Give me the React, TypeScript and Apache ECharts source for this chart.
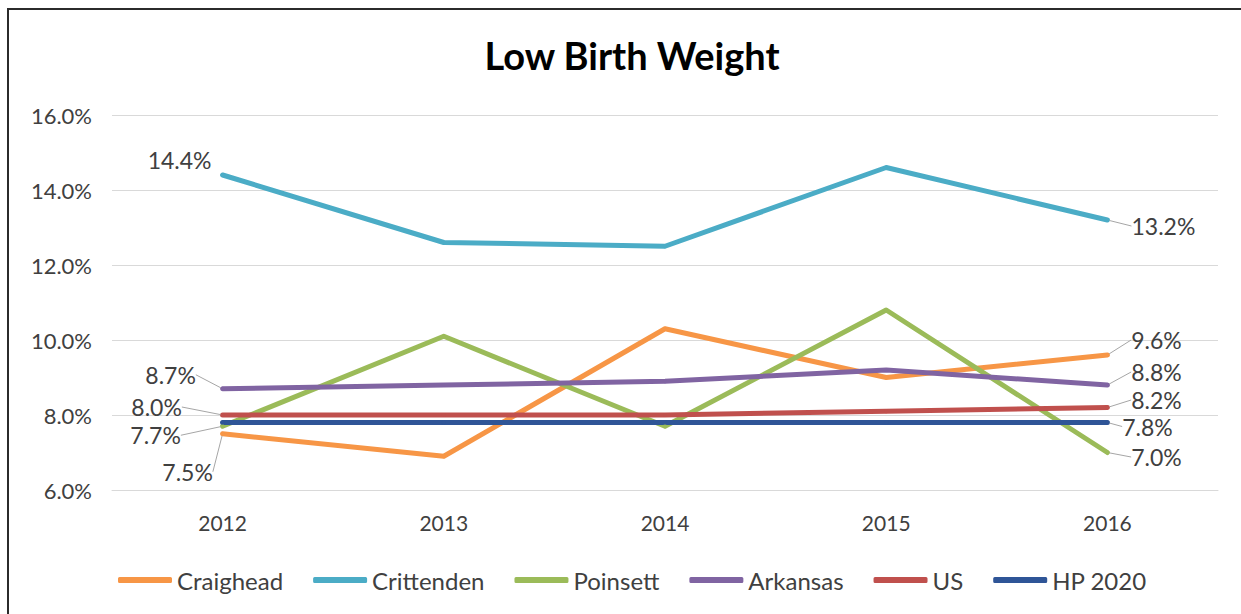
import React, { useEffect, useRef } from "react";
import * as echarts from "echarts";

const years = ["2012", "2013", "2014", "2015", "2016"];
const craighead = [7.5, 6.9, 10.3, 9.0, 9.6];
const crittenden = [14.4, 12.6, 12.5, 14.6, 13.2];
const poinsett = [7.7, 10.1, 7.7, 10.8, 7.0];
const arkansas = [8.7, 8.8, 8.9, 9.2, 8.8];
const us = [8.0, 8.0, 8.0, 8.1, 8.2];
const hp2020 = [7.8, 7.8, 7.8, 7.8, 7.8];

const seriesNames = ["Craighead", "Crittenden", "Poinsett", "Arkansas", "US", "HP 2020"];
const seriesValues = [craighead, crittenden, poinsett, arkansas, us, hp2020];
const seriesColors = ["#F79646", "#4BACC6", "#9BBB59", "#8064A2", "#C0504D", "#2F5597"];

// label offsets (dx, dy) from the point, for the first and last point
const labelOffsets: Record<string, [number, number][]> = {
  Craighead: [[-35, 38], [49, -15]],
  Crittenden: [[-43, -15], [56, 6]],
  Poinsett: [[-67, 9], [49, 4.5]],
  Arkansas: [[-52, -14], [49, -13]],
  US: [[-66, -8], [49, -7.5]],
  "HP 2020": [[0, 0], [40, 4]],
};
const hideGuide: Record<string, boolean> = { "Crittenden-0": true };

const FONT = "Lato";

export default function App() {
  const ref = useRef<HTMLDivElement>(null);
  useEffect(() => {
    if (!ref.current) return;
    const chart = echarts.init(ref.current, undefined, { renderer: "svg" });
    const series = seriesNames.map((name, si) => {
      const vals = seriesValues[si];
      const last = vals.length - 1;
      return {
        name,
        type: "line",
        symbol: "circle",
        symbolSize: 4,
        showSymbol: true,
        color: seriesColors[si],
        lineStyle: { width: 5, color: seriesColors[si], cap: "round", join: "round" },
        itemStyle: { color: seriesColors[si] },
        data: vals.map((v, i) => {
          const showLabel = (i === 0 || i === last) && !(name === "HP 2020" && i === 0);
          if (!showLabel) return v;
          return {
            value: v,
            label: { show: true },
            labelLine: { show: !hideGuide[`${name}-${i}`] },
          };
        }),
        label: {
          show: false,
          position: "inside",
          formatter: (p: any) => Number(p.value).toFixed(1) + "%",
          fontFamily: FONT,
          fontSize: 23,
          color: "#404040",
          padding: [0, 3],
        },
        labelLine: {
          show: true,
          lineStyle: { color: "#A6A6A6", width: 1 },
        },
        labelLayout: (params: any) => {
          const idx = params.dataIndex === 0 ? 0 : 1;
          const off = labelOffsets[name][idx];
          return { dx: off[0], dy: off[1] };
        },
        emphasis: { disabled: true },
      };
    });

    chart.setOption({
      animation: false,
      backgroundColor: "#ffffff",
      title: {
        text: "Low Birth Weight",
        left: 627,
        textAlign: "center",
        top: 31,
        textStyle: { fontFamily: FONT, fontWeight: "bold", fontSize: 38, color: "#000000" },
      },
      graphic: [
        {
          type: "rect",
          shape: { x: 8, y: 9, width: 1400, height: 800 },
          style: { fill: "none", stroke: "#2b2b2b", lineWidth: 2 },
          silent: true,
        },
      ],
      grid: { left: 112, right: 23, top: 115, bottom: 124, containLabel: false },
      legend: {
        left: 113,
        top: 563,
        icon: "roundRect",
        itemWidth: 54,
        itemHeight: 6,
        itemGap: 30,
        textStyle: { fontFamily: FONT, fontSize: 24, color: "#404040" },
        data: seriesNames,
      },
      xAxis: {
        type: "category",
        data: years,
        boundaryGap: true,
        axisTick: { show: false },
        axisLine: { lineStyle: { color: "#D9D9D9", width: 1 } },
        axisLabel: { fontFamily: FONT, fontSize: 21, color: "#404040", margin: 22 },
      },
      yAxis: {
        type: "value",
        min: 6,
        max: 16,
        interval: 2,
        axisLine: { show: false },
        axisTick: { show: false },
        splitLine: { lineStyle: { color: "#D9D9D9", width: 1 } },
        axisLabel: {
          fontFamily: FONT,
          fontSize: 22,
          color: "#404040",
          margin: 20,
          formatter: (v: number) => v.toFixed(1) + "%",
        },
      },
      series,
    });
    return () => chart.dispose();
  }, []);
  return (
    <div
      ref={ref}
      style={{ position: "fixed", left: 0, top: 0, width: 1241, height: 614 }}
    />
  );
}
